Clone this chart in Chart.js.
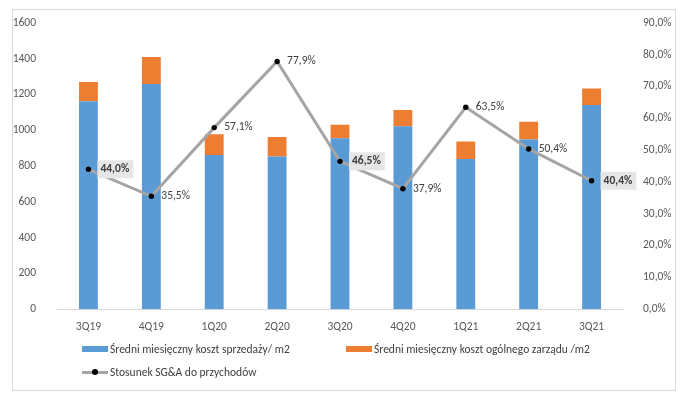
<!DOCTYPE html>
<html>
<head>
<meta charset="utf-8">
<script src="https://cdn.jsdelivr.net/npm/chart.js@4"></script>
<style>
    body { margin: 0; background: #fff; font-family: Calibri, Carlito, 'Liberation Sans', sans-serif; }
    #wrap { position: relative; width: 686px; height: 398px; }
    #frame { position: absolute; left: 12px; top: 9px; width: 662px; height: 380px; border: 1px solid #d9d9d9; }
    #legend { position: absolute; left: 0; top: 0; width: 686px; height: 398px; pointer-events: none; }
    .item { position: absolute; font-size: 11.5px; color: #404040; white-space: nowrap; display: flex; align-items: center; }
    .sw { display: inline-block; width: 26px; height: 6px; margin-right: 2px; position: relative; }
    .sw.line { height: 3px; }
    .sw.line span { position: absolute; left: 10px; top: -2px; width: 6px; height: 6px; border-radius: 3px; background: #000; }
</style>
</head>
<body>
<div id="wrap">
    <div id="frame"></div>
    <canvas id="sga-chart" width="686" height="398"></canvas>
    <div id="legend"></div>
</div>
<script>
const quarters = ['3Q19', '4Q19', '1Q20', '2Q20', '3Q20', '4Q20', '1Q21', '2Q21', '3Q21']
const sellingCost = [1163, 1259, 862, 854, 955, 1023, 839, 949, 1141]   // blue
const adminCost = [107, 151, 116, 108, 76, 91, 99, 99, 93]             // orange, stacked on top
const sgaRatio = [0.440, 0.355, 0.571, 0.779, 0.465, 0.379, 0.635, 0.504, 0.404]
const boxedLabels = [0, 4, 8] // these labels have the grey box + bold text

const pct = v => (v * 100).toFixed(1).replace('.', ',') + '%'
const fontFamily = "Calibri, Carlito, 'Liberation Sans', sans-serif"

// labels next to the line points
const pointLabels = {
    id: 'pointLabels',
    afterDatasetsDraw(chart) {
        const ctx = chart.ctx
        const meta = chart.getDatasetMeta(2)
        ctx.save()
        ctx.textBaseline = 'middle'
        meta.data.forEach((pt, i) => {
            const txt = pct(sgaRatio[i])
            const boxed = boxedLabels.includes(i)
            ctx.font = (boxed ? 'bold ' : '') + '11.5px ' + fontFamily
            const w = ctx.measureText(txt).width
            const x = pt.x + 10
            if (boxed) {
                ctx.fillStyle = '#e7e6e6'
                ctx.fillRect(x - 1, pt.y - 9, w + 7, 18)
                ctx.fillStyle = '#404040'
                ctx.fillText(txt, x + 2, pt.y)
            } else {
                ctx.fillStyle = '#404040'
                ctx.fillText(txt, x, pt.y)
            }
        })
        ctx.restore()
    }
}

const ctx = document.getElementById('sga-chart')
const myChart = new Chart(ctx, {
    type: 'bar',
    data: {
        labels: quarters,
        datasets: [
            {
                label: 'Średni miesięczny koszt sprzedaży/ m2',
                data: sellingCost,
                backgroundColor: '#5b9bd5',
                yAxisID: 'y',
                order: 2,
                categoryPercentage: 1,
                barPercentage: 0.3
            },
            {
                label: 'Średni miesięczny koszt ogólnego zarządu /m2',
                data: adminCost,
                backgroundColor: '#ed7d31',
                yAxisID: 'y',
                order: 2,
                categoryPercentage: 1,
                barPercentage: 0.3
            },
            {
                type: 'line',
                label: 'Stosunek SG&A do przychodów',
                data: sgaRatio,
                yAxisID: 'y1',
                borderColor: '#a5a5a5',
                borderWidth: 3,
                pointRadius: 2.7,
                pointBackgroundColor: '#000',
                pointBorderColor: '#000',
                pointBorderWidth: 0,
                tension: 0,
                order: 0
            }
        ]
    },
    options: {
        responsive: false,
        animation: false,
        layout: { padding: { left: 12, right: 12, top: 23, bottom: 61 } },
        plugins: {
            legend: { display: false },
            tooltip: { enabled: false }
        },
        scales: {
            x: {
                stacked: true,
                grid: { display: false },
                border: { display: true, color: '#d9d9d9', width: 1 },
                ticks: { color: '#595959', font: { family: fontFamily, size: 11.5 }, padding: 3 }
            },
            y: {
                stacked: true,
                min: 0,
                max: 1600,
                grid: { display: false },
                border: { display: false },
                ticks: {
                    stepSize: 200,
                    color: '#595959',
                    font: { family: fontFamily, size: 11.5 },
                    padding: 13,
                    callback: v => String(v) // no thousands separator
                },
                afterFit(scale) { scale.width = 45 }
            },
            y1: {
                position: 'right',
                min: 0,
                max: 0.9,
                grid: { display: false },
                border: { display: false },
                ticks: {
                    stepSize: 0.1,
                    color: '#595959',
                    font: { family: fontFamily, size: 11.5 },
                    padding: 12,
                    callback: v => pct(v)
                },
                afterFit(scale) { scale.width = 51 }
            }
        }
    },
    plugins: [pointLabels]
})

// custom legend, laid out like the original (two items in row 1, one in row 2)
const legendPos = [[82, 342], [346, 342], [82, 365]]
const legendEl = document.getElementById('legend')
myChart.data.datasets.forEach((ds, i) => {
    const item = document.createElement('div')
    item.className = 'item'
    item.style.left = legendPos[i][0] + 'px'
    item.style.top = legendPos[i][1] + 'px'
    const sw = document.createElement('span')
    if (ds.type === 'line') {
        sw.className = 'sw line'
        sw.style.background = ds.borderColor
        sw.appendChild(document.createElement('span'))
    } else {
        sw.className = 'sw'
        sw.style.background = ds.backgroundColor
    }
    item.appendChild(sw)
    item.appendChild(document.createTextNode(ds.label))
    legendEl.appendChild(item)
})
</script>
</body>
</html>
